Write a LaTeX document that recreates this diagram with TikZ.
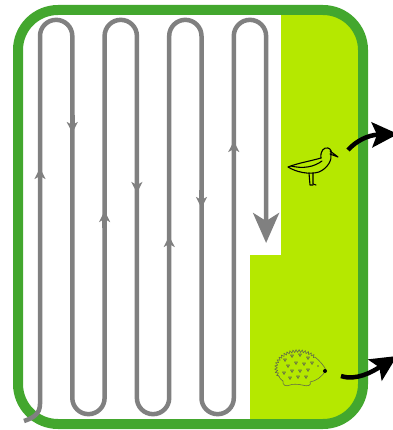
\documentclass[tikz,border=0pt]{standalone}
\usetikzlibrary{arrows.meta,decorations.pathmorphing}
\definecolor{fieldgreen}{RGB}{67,167,46}
\definecolor{cropgreen}{RGB}{181,232,0}
\definecolor{track}{RGB}{128,128,128}
\definecolor{hoggrey}{RGB}{100,110,70}
\begin{document}
\begin{tikzpicture}[x=1pt,y=-1pt,
  trackline/.style={draw=track,line width=4.5pt},
  smallhead/.style={trackline,-{Stealth[length=11pt,width=11pt,inset=3pt]}},
  exitarrow/.style={draw=black,line width=4.5pt,-{Stealth[length=26pt,width=25pt,inset=5pt]}},
  birdline/.style={draw=black,line width=1.1pt,line cap=round,line join=round},
  hogline/.style={draw=hoggrey,line width=0.6pt,line join=round}]
\useasboundingbox (0,0) rectangle (392,430);

% uncut strip of the field
\begin{scope}
  \clip[rounded corners=40] (18,10) rectangle (363,424);
  \fill[cropgreen] (281,0) -- (400,0) -- (400,440) -- (250,440) -- (250,255) -- (281,255) -- cycle;
\end{scope}

% field border
\draw[fieldgreen,line width=10pt,rounded corners=40] (18,10) rectangle (363,424);

% mowing track, back and forth
\coordinate (start) at (24,421);
\coordinate (finish) at (266.1,243);
\draw[trackline,-{Stealth[length=30pt,width=26pt,inset=8pt]}]
  (start) .. controls (33,418) and (40,414) .. (40,404) -- (40,36)
  arc[start angle=180,end angle=360,radius=16.15] -- (72.3,398)
  arc[start angle=180,end angle=0,radius=16.15] -- (104.6,36)
  arc[start angle=180,end angle=360,radius=16.15] -- (136.9,398)
  arc[start angle=180,end angle=0,radius=16.15] -- (169.2,36)
  arc[start angle=180,end angle=360,radius=16.15] -- (201.5,398)
  arc[start angle=180,end angle=0,radius=16.15] -- (233.8,36)
  arc[start angle=180,end angle=360,radius=16.15] -- (finish);

% direction marks on the track
\draw[smallhead] (40,185) -- (40,168);
\draw[smallhead] (72.3,115) -- (72.3,133);
\draw[smallhead] (104.6,228) -- (104.6,211);
\draw[smallhead] (136.9,175) -- (136.9,193);
\draw[smallhead] (169.2,253) -- (169.2,236);
\draw[smallhead] (201.5,190) -- (201.5,208);
\draw[smallhead] (233.8,158) -- (233.8,141);

% wader bird
\begin{scope}
  \draw[birdline] (321,158) .. controls (320,151) and (324,147) .. (328,148)
    .. controls (331,149) and (332,152) .. (331,154);
  \draw[birdline] (330,151) -- (338,157) -- (330,154);
  \draw[birdline] (321,158) .. controls (311,161) and (298,163) .. (288,167)
    .. controls (296,172) and (309,175) .. (319,172)
    .. controls (328,168) and (332,160) .. (331,154);
  \draw[birdline] (291,166) .. controls (303,169) and (314,167) .. (322,161);
  \draw[birdline] (309,173) -- (310,185) -- (313,185);
  \draw[birdline] (313,173) -- (313,184) -- (316,185);
\end{scope}

% hedgehog
\begin{scope}
  \draw[hogline,decorate,decoration={zigzag,segment length=3pt,amplitude=1.4pt}]
    (298,368) ++(320:22 and 17) arc[start angle=320,end angle=150,x radius=22,y radius=17];
  \draw[hogline] (315,357) .. controls (320,361) and (324,366) .. (326,370)
    .. controls (322,377) and (316,381) .. (310,382)
    .. controls (312,385) and (308,387) .. (302,385)
    .. controls (298,384) and (292,384) .. (290,385)
    .. controls (286,387) and (282,385) .. (283,381)
    .. controls (280,379) and (279,377) .. (279,376);
  \fill[black] (325,371) circle[radius=2];
  \fill[hoggrey] (318,366) circle[radius=0.8];
  \foreach \p in {(285,360),(292,356),(300,355),(308,358),(288,366),(296,363),(304,364),(312,363),
                  (284,373),(292,371),(300,371),(308,370),(290,378),(298,377),(306,377)}
    \draw[hogline] \p ++(-1.5,-1) -- ++(3,0) -- ++(-1.5,2.5) -- cycle;
\end{scope}

% animals escaping across the border
\coordinate (birdout) at (348,150);
\coordinate (birdaway) at (398,134);
\coordinate (hogout) at (341,376);
\coordinate (hogaway) at (397,356);
\draw[exitarrow] (birdout) .. controls (356,141) and (368,135) .. (birdaway);
\draw[exitarrow] (hogout) .. controls (356,381) and (372,372) .. (hogaway);
\end{tikzpicture}
\end{document}
